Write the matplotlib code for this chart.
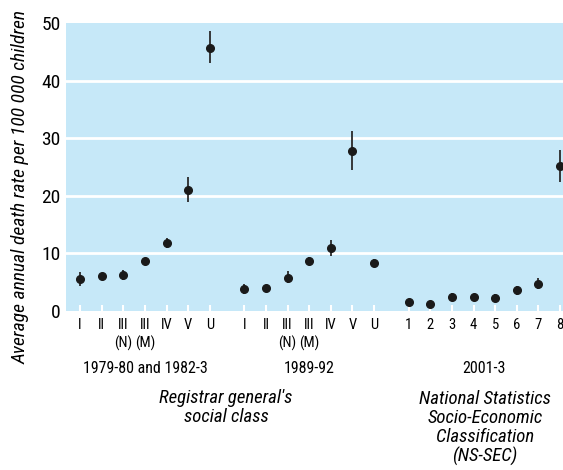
import numpy as np
import matplotlib.pyplot as plt
from matplotlib import font_manager

# condensed font if available
fams = set(f.name for f in font_manager.fontManager.ttflist)
narrow = 'DejaVu Sans'
for cand in ['Roboto Condensed', 'Archivo Narrow', 'PT Sans Narrow', 'Fira Sans Condensed',
             'Liberation Sans Narrow', 'Encode Sans Condensed']:
    if cand in fams:
        narrow = cand
        break
plt.rcParams['font.family'] = [narrow, 'DejaVu Sans']

# data: rate and 95% CI, per group
labels_rg = ['I', 'II', 'III\n(N)', 'III\n(M)', 'IV', 'V', 'U']
labels_ns = ['1', '2', '3', '4', '5', '6', '7', '8']

rate_1979 = [5.6, 6.0, 6.2, 8.6, 11.8, 21.0, 45.7]
low_1979 = [4.4, 5.5, 5.4, 8.1, 10.9, 18.9, 43.0]
high_1979 = [6.8, 6.5, 7.1, 9.1, 12.7, 23.2, 48.6]

rate_1989 = [3.8, 4.0, 5.8, 8.7, 10.9, 27.8, 8.4]
low_1989 = [2.9, 3.5, 4.8, 8.1, 9.5, 24.5, 7.7]
high_1989 = [4.7, 4.5, 7.0, 9.3, 12.3, 31.2, 9.1]

rate_2001 = [1.6, 1.2, 2.5, 2.5, 2.3, 3.6, 4.7, 25.2]
low_2001 = [1.2, 0.8, 1.8, 2.0, 1.7, 2.7, 3.8, 22.4]
high_2001 = [2.0, 1.6, 3.2, 3.0, 2.9, 4.4, 5.8, 27.9]

group_names = ['1979-80 and 1982-3', '1989-92', '2001-3']

gap = 1.6
x1 = np.arange(len(rate_1979))
x2 = np.arange(len(rate_1989)) + x1[-1] + gap
x3 = np.arange(len(rate_2001)) + x2[-1] + gap

fig = plt.figure(figsize=(5.63, 4.70), dpi=100)
ax = fig.add_axes([66/563, 159/470, 497/563, 288/470])
ax.set_facecolor('#c6e8f8')

for xs, r, lo, hi in [(x1, rate_1979, low_1979, high_1979),
                      (x2, rate_1989, low_1989, high_1989),
                      (x3, rate_2001, low_2001, high_2001)]:
    r = np.array(r)
    err = [r - np.array(lo), np.array(hi) - r]
    ax.errorbar(xs, r, yerr=err, fmt='o', color='#1a1a1a', ecolor='#2a2a2a',
                markersize=5.5, elinewidth=1.3, capsize=0, zorder=3)

ax.set_xlim(-0.65, x3[-1] + 0.14)
ax.set_ylim(0, 50)
ax.set_yticks([0, 10, 20, 30, 40, 50])
for v in [10, 20, 30, 40]:
    ax.axhline(v, color='white', lw=2, zorder=1)

ax.set_xticks(np.concatenate([x1, x2, x3]))
ax.set_xticklabels(labels_rg + labels_rg + labels_ns, fontsize=10.5, linespacing=1.3)
ax.tick_params(axis='x', direction='in', color='white', length=4, width=1.5, pad=5)
ax.tick_params(axis='y', length=0, labelsize=14, pad=4)
for s in ax.spines.values():
    s.set_visible(False)

# text positions in pixels of the 563x470 figure
def px(x):
    return x / 563

def py(y):
    return 1 - y / 470

fig.text(px(21), py(187), 'Average annual death rate per 100 000 children', rotation=90,
         ha='center', va='center', fontsize=14, style='italic')

centers = [x1.mean(), x2.mean(), x3.mean()]
for c, name in zip(centers, group_names):
    ax.text(c, -0.2, name, transform=ax.get_xaxis_transform(), ha='center',
            va='center', fontsize=11.5)

fig.text(px(226), py(389), "Registrar general's\nsocial class", ha='center', va='top',
         fontsize=13.5, style='italic', linespacing=1.05)
fig.text(px(485), py(390), 'National Statistics\nSocio-Economic\nClassification\n(NS-SEC)',
         ha='center', va='top', fontsize=13.5, style='italic', linespacing=1.07)

fig.savefig('out.png', dpi=100)
plt.close(fig)
